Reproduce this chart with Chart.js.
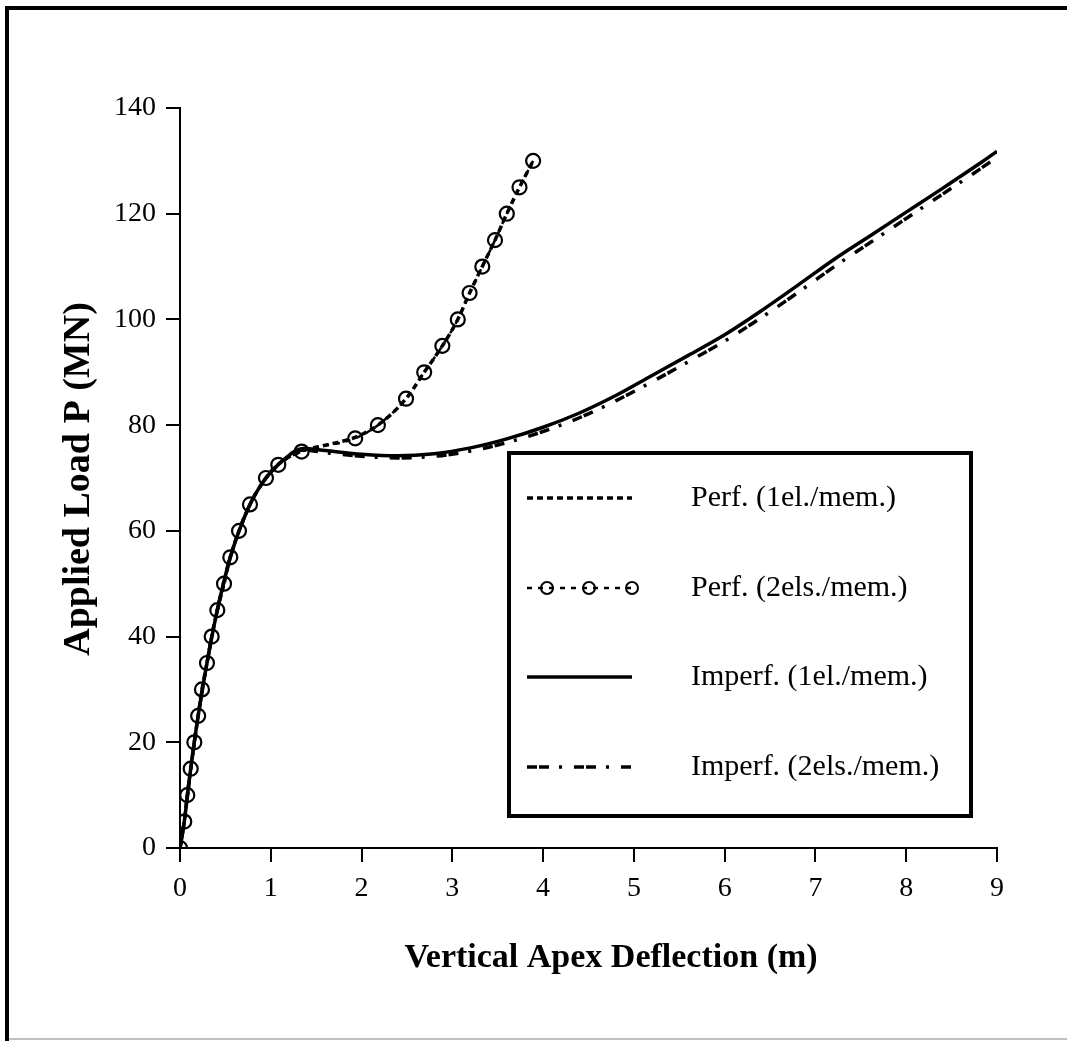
<!DOCTYPE html>
<html>
<head>
<meta charset="utf-8">
<script src="https://cdn.jsdelivr.net/npm/chart.js@4/dist/chart.umd.min.js"></script>
<style>
html,body{margin:0;padding:0;background:#fff;}
canvas{display:block;}
</style>
</head>
<body>
<canvas id="c" width="1067" height="1041"></canvas>
<script>
// ---- Data ----
const xTicks = [0,1,2,3,4,5,6,7,8,9];
const yTicks = [0,20,40,60,80,100,120,140];

const seriesNames = ['Perf. (1el./mem.)','Perf. (2els./mem.)','Imperf. (1el./mem.)','Imperf. (2els./mem.)'];

// Perf. (1el./mem.) - dotted
const perf1X = [0,0.047,0.08,0.118,0.158,0.2,0.242,0.297,0.349,0.411,0.485,0.554,0.65,0.771,0.947,1.083,1.34,1.6,1.93,2.18,2.49,2.69,2.89,3.06,3.19,3.33,3.47,3.6,3.74,3.89];
const perf1Y = [0,5,10,15,20,25,30,35,40,45,50,55,60,65,70,72.6,75.1,76.2,77.7,80,85,90,95,100,105,110,115,120,125,130];

// Perf. (2els./mem.) - dashed with circles
const perf2X = [0,0.047,0.08,0.118,0.158,0.2,0.242,0.297,0.349,0.411,0.485,0.554,0.65,0.771,0.947,1.083,1.34,1.93,2.18,2.49,2.69,2.89,3.06,3.19,3.33,3.47,3.6,3.74,3.89];
const perf2Y = [0,5,10,15,20,25,30,35,40,45,50,55,60,65,70,72.5,75,77.5,80,85,90,95,100,105,110,115,120,125,130];

// Imperf. (1el./mem.) - solid
const imp1X = [0,0.047,0.118,0.2,0.297,0.411,0.554,0.771,0.947,1.1,1.36,1.6,2.0,2.4,2.8,3.2,3.6,4.0,4.4,4.8,5.2,5.6,6.0,6.4,6.8,7.2,7.6,8.0,8.4,8.8,9.0];
const imp1Y = [0,5,15,25,35,45,55,65,70,72.8,75.6,75.2,74.5,74.2,74.6,75.7,77.4,79.6,82.3,85.6,89.4,93.2,97.1,101.6,106.4,111.3,115.8,120.3,124.8,129.4,131.8];

// Imperf. (2els./mem.) - dash-dot
const imp2X = [0,0.047,0.118,0.2,0.297,0.411,0.554,0.771,0.947,1.1,1.36,1.6,2.0,2.4,2.8,3.2,3.6,4.0,4.4,4.8,5.2,5.6,6.0,6.4,6.8,7.2,7.6,8.0,8.4,8.8,9.0];
const imp2Y = [0,5,15,25,35,45,55,65,70,72.7,75.3,74.8,74.1,73.8,74.1,75.1,76.7,78.8,81.4,84.6,88.2,92.0,95.9,100.3,105.0,109.9,114.5,119.1,123.7,128.3,130.7];

const xTitle = 'Vertical Apex Deflection (m)';
const yTitle = 'Applied Load P (MN)';

// ---- Build ----
const pts = (xs, ys) => xs.map((x,i)=>({x:x, y:ys[i]}));
const FONT = "'Liberation Serif','Times New Roman',serif";

const styles = [
  {borderWidth:3.5, borderDash:[6,4], pointRadius:0},
  {borderWidth:2.5, borderDash:[5,6], pointRadius:7, pointBorderWidth:2.2},
  {borderWidth:3.5, borderDash:[], pointRadius:0},
  {borderWidth:3.5, borderDash:[10,2,10,10,3,12], pointRadius:0}
];
const dataSets = [pts(perf1X,perf1Y), pts(perf2X,perf2Y), pts(imp1X,imp1Y), pts(imp2X,imp2Y)];

const datasets = dataSets.map((d,i)=>Object.assign({
  label: seriesNames[i],
  data: d,
  showLine: true,
  borderColor: '#000',
  backgroundColor: 'rgba(0,0,0,0)',
  pointBackgroundColor: 'rgba(0,0,0,0)',
  pointBorderColor: '#000',
  pointStyle: 'circle',
  cubicInterpolationMode: 'monotone',
  fill: false
}, styles[i]));

const framePlugin = {
  id: 'frame',
  beforeDraw(chart){
    const ctx = chart.ctx;
    ctx.save();
    ctx.fillStyle = '#fff';
    ctx.fillRect(0,0,chart.width,chart.height);
    ctx.fillStyle = '#000';
    ctx.fillRect(5,6,4,1035);
    ctx.fillRect(5,6,1062,4);
    ctx.fillStyle = '#c0c0c0';
    ctx.fillRect(9,1038,1058,2);
    ctx.restore();
  }
};

const decoPlugin = {
  id: 'deco',
  afterDraw(chart){
    const ctx = chart.ctx;
    ctx.save();
    // axis titles
    ctx.fillStyle = '#000';
    ctx.textAlign = 'center';
    ctx.textBaseline = 'middle';
    ctx.font = "bold 34px " + FONT;
    ctx.fillText(xTitle, 611, 958);
    ctx.save();
    ctx.font = "bold 38px " + FONT;
    ctx.translate(79, 479);
    ctx.rotate(-Math.PI/2);
    ctx.fillText(yTitle, 0, 0);
    ctx.restore();

    // legend box
    ctx.fillStyle = '#fff';
    ctx.fillRect(509,453,462,363);
    ctx.strokeStyle = '#000';
    ctx.lineWidth = 4;
    ctx.strokeRect(509,453,462,363);

    const rows = [498, 588, 677, 767];
    const x0 = 527, x1 = 632;
    rows.forEach((yy, i)=>{
      const st = styles[i];
      ctx.save();
      ctx.strokeStyle = '#000';
      ctx.lineWidth = st.borderWidth;
      ctx.setLineDash(st.borderDash);
      ctx.beginPath();
      ctx.moveTo(x0, yy);
      ctx.lineTo(x1, yy);
      ctx.stroke();
      if (st.pointRadius > 0) {
        ctx.setLineDash([]);
        ctx.lineWidth = 2;
        [547, 589, 632].forEach(cx=>{
          ctx.beginPath();
          ctx.arc(cx, yy, 6, 0, Math.PI*2);
          ctx.stroke();
        });
      }
      ctx.restore();
      ctx.fillStyle = '#000';
      ctx.font = "30px " + FONT;
      ctx.textAlign = 'left';
      ctx.textBaseline = 'middle';
      ctx.fillText(seriesNames[i], 691, yy);
    });
    ctx.restore();
  }
};

new Chart(document.getElementById('c'), {
  type: 'scatter',
  data: { datasets: datasets },
  options: {
    responsive: false,
    animation: false,
    layout: { padding: { top: 108, right: 70, left: 0, bottom: 0 } },
    plugins: { legend: { display: false }, tooltip: { enabled: false }, title: { display: false } },
    scales: {
      x: {
        type: 'linear', min: xTicks[0], max: xTicks[xTicks.length-1],
        afterBuildTicks(s){ s.ticks = xTicks.map(v=>({value:v})); },
        afterFit(s){ s.height = 193; },
        ticks: { color:'#000', font:{family:FONT, size:28}, padding:10, maxRotation:0, autoSkip:false },
        grid: { drawOnChartArea:false, drawTicks:true, tickLength:14, color:'#000', lineWidth:2 },
        border: { display:true, color:'#000', width:2 }
      },
      y: {
        type: 'linear', min: yTicks[0], max: yTicks[yTicks.length-1],
        afterBuildTicks(s){ s.ticks = yTicks.map(v=>({value:v})); },
        afterFit(s){ s.width = 180; },
        ticks: { color:'#000', font:{family:FONT, size:28}, padding:10, autoSkip:false },
        grid: { drawOnChartArea:false, drawTicks:true, tickLength:14, color:'#000', lineWidth:2 },
        border: { display:true, color:'#000', width:2 }
      }
    }
  },
  plugins: [framePlugin, decoPlugin]
});
</script>
</body>
</html>
